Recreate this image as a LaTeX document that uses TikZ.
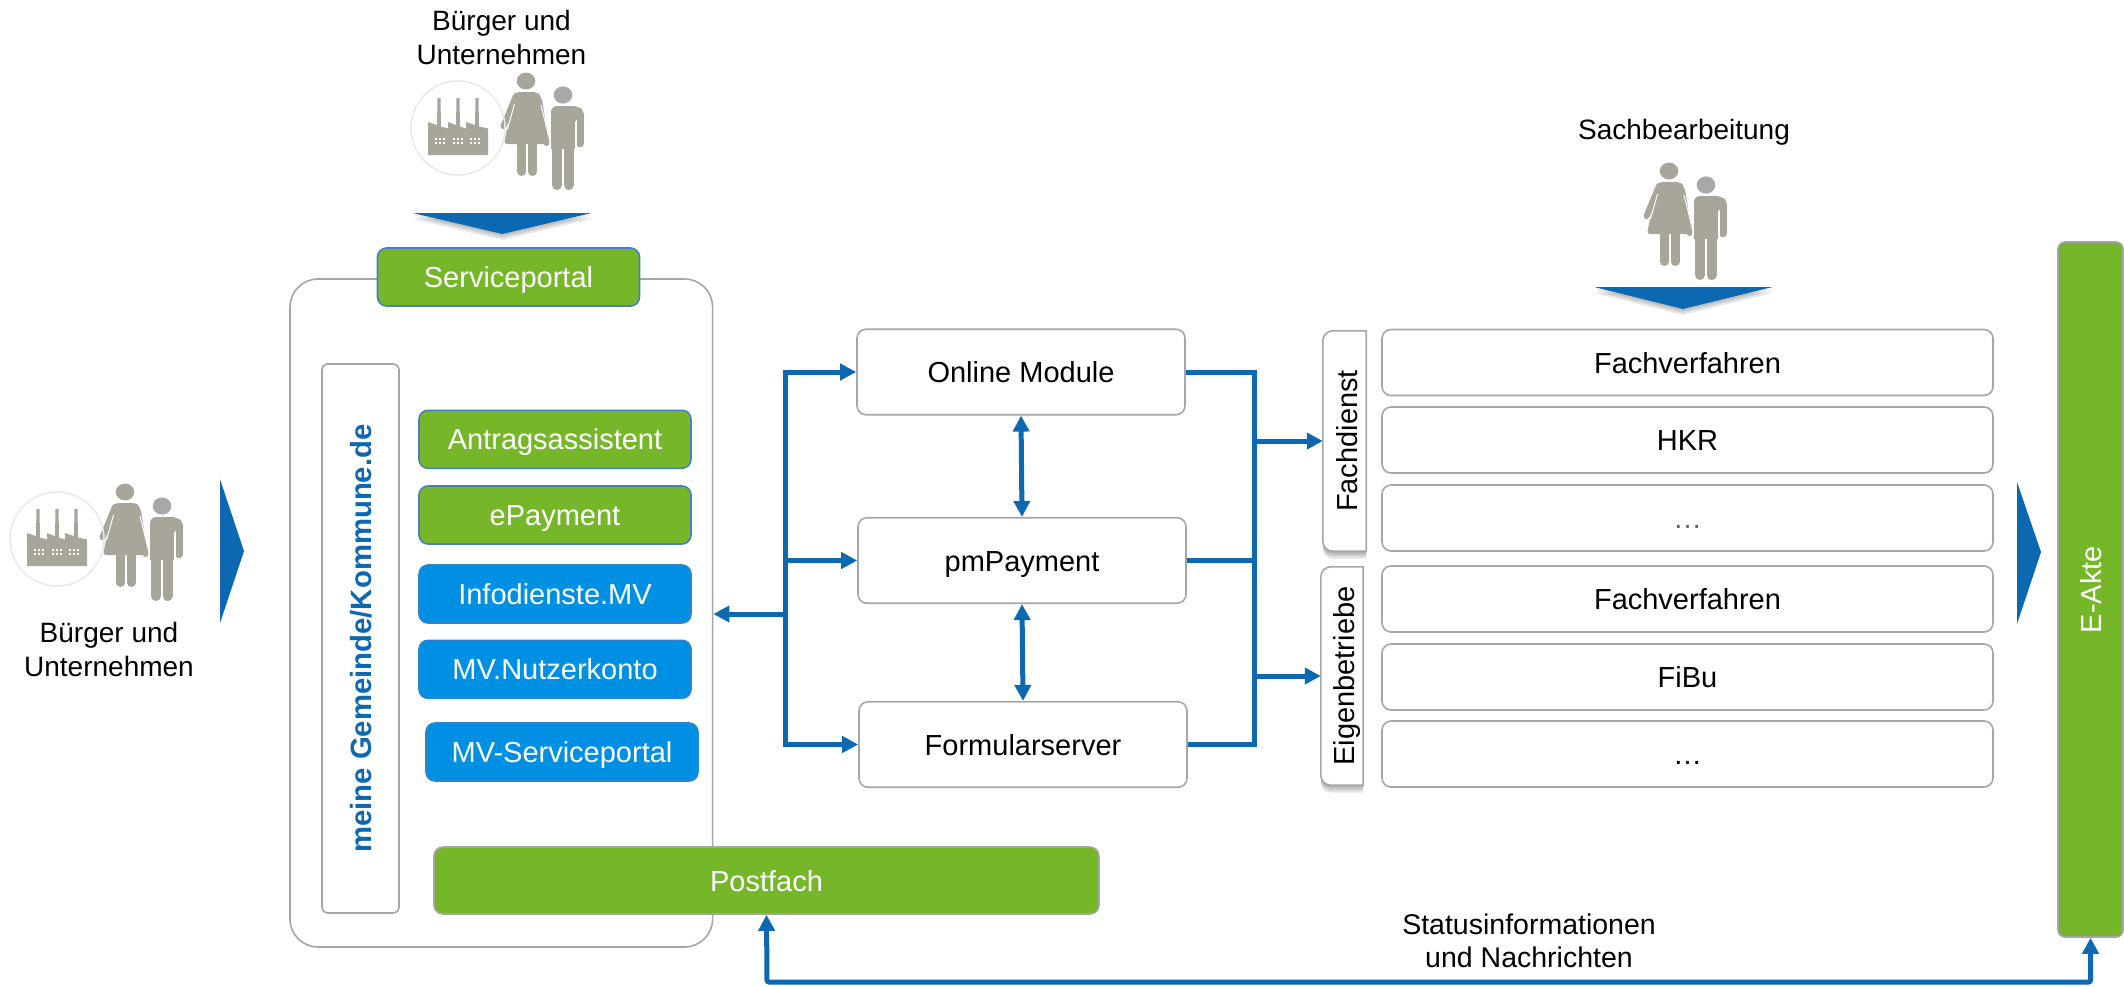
\documentclass[tikz,border=0pt]{standalone}
\usepackage{fontspec}
\setmainfont{Liberation Sans}
\usepackage{graphicx}
\usetikzlibrary{arrows.meta,backgrounds,calc}
\definecolor{flowblue}{HTML}{0D68B2}
\definecolor{leaf}{HTML}{76B72A}
\definecolor{sky}{HTML}{0090E3}
\definecolor{edgegray}{HTML}{A6A6A6}
\definecolor{figgray}{HTML}{A8A59B}
\definecolor{headgray}{HTML}{A7A8AA}
\definecolor{boxline}{HTML}{4A7EC4}
\newcommand{\vtext}[2][21pt]{\rotatebox{90}{\raisebox{0pt}[#1][0pt]{#2}}}
\tikzset{
  txt/.style={font=\fontsize{29}{34}\selectfont,inner sep=0pt},
  capbox/.style={txt,text height=21pt,text depth=0pt},
  plain/.style={capbox,draw=edgegray,fill=white,line width=1.6pt,rounded corners=9pt},
  greenbox/.style={capbox,draw=boxline,fill=leaf,text=white,line width=1.6pt,rounded corners=9pt,minimum width=272pt,minimum height=58pt},
  bluebox/.style={capbox,draw=boxline!60!sky,fill=sky,text=white,line width=1.6pt,rounded corners=9pt,minimum width=272pt,minimum height=58pt},
  module/.style={plain,minimum width=328pt,minimum height=85.5pt},
  rowbox/.style={plain,minimum width=611pt,minimum height=66pt},
  caption/.style={font=\fontsize{28}{34}\selectfont,inner sep=0pt,align=center},
  tabnode/.style={txt},
  tabshape/.style={draw=edgegray,fill=white,line width=1.6pt},
  tabshade/.style={fill=black,fill opacity=.11},
  flowline/.style={draw=flowblue,line width=5pt},
  flow/.style={flowline,-{Triangle[length=16pt,width=16pt]}},
  flowboth/.style={flowline,{Triangle[length=16pt,width=16pt]}-{Triangle[length=16pt,width=16pt]}},
  bigarrow/.style={fill=flowblue},
  arrowshade/.style={fill=black,fill opacity=.09},
  people/.pic={
    % man
    \fill[headgray] (162,506) ellipse [x radius=9.3,y radius=8.6];
    \fill[figgray] (150,525) rectangle (174,560);
    \fill[figgray,rounded corners=6pt] (150,517) -- (178,517) -- (183,523) -- (183,532) -- (150,532) -- cycle;
    \draw[figgray,line width=7.5pt,line cap=round] (179.2,525) -- (179.2,554.5);
    \draw[figgray,line width=10pt,line cap=round] (156,552) -- (156,596);
    \draw[figgray,line width=10pt,line cap=round] (167.5,552) -- (167.5,596);
    \draw[white,line width=.8pt] (175,531) -- (175,560);
    % woman
    \fill[figgray] (125,492) ellipse [x radius=9.3,y radius=8.4];
    \draw[white,line width=1pt] (139,510) -- (149.5,556);
    \fill[figgray,rounded corners=3pt] (115,503) -- (136,503) -- (141,510) -- (148,555) -- (103,555) -- (112,510) -- cycle;
    \draw[figgray,line width=6pt,line cap=round] (115,507) -- (102.5,537);
    \draw[figgray,line width=6pt,line cap=round] (136,507) -- (145.5,554);
    \draw[white,line width=1pt] (113.5,515) -- (106.5,540);
    \draw[white,line width=1pt] (140,516) -- (148,548);
    \draw[figgray,line width=9pt,line cap=round] (120.5,550) -- (120.5,582.5);
    \draw[figgray,line width=9pt,line cap=round] (131.5,550) -- (131.5,582.5);
  },
  factory/.pic={
    \draw[black!9,line width=1.5pt] (57,539) circle [radius=47];
    \fill[figgray] (27,566) -- (27,533) -- (36,536) -- (36.5,509) -- (39.5,509) -- (40,537.5) -- (47,539.5) -- (47,533) -- (55,536) -- (55.5,509) -- (58.5,509) -- (59,537.5) -- (65,539.5) -- (65,533) -- (74,536) -- (74.5,509) -- (77.5,509) -- (78,537.5) -- (87,539.5) -- (87,566) -- cycle;
    \foreach \cx in {39,57,74}{
      \foreach \ox in {-4,0,4}{
        \foreach \oy in {550,554}{
          \fill[white] ({\cx+\ox-1},\oy-1) rectangle ({\cx+\ox+1},\oy+1);
        }
      }
    }
  }
}
\begin{document}
\begin{tikzpicture}[x=1pt,y=-1pt]
\useasboundingbox (0,0) rectangle (2124,986);

% Outer portal frame and its contents
\node[plain,minimum width=422.6pt,minimum height=668pt,rounded corners=28pt] (portal) at (501.3,613) {};
\node[txt,draw=edgegray,fill=white,line width=1.6pt,rounded corners=6pt,minimum width=77pt,minimum height=549pt,text=flowblue,font=\fontsize{29.3}{34}\selectfont] (gemeinde) at (360.5,638.5) {\bfseries\vtext{meine Gemeinde/Kommune.de}};
\node[greenbox,minimum width=262pt] (service) at (508.5,277) {Serviceportal};
\node[greenbox] (antrag) at (555,439.3) {Antragsassistent};
\node[greenbox] (epay) at (555,515) {ePayment};
\node[bluebox] (info) at (555,594) {Infodienste.MV};
\node[bluebox] (konto) at (555,669.3) {MV.Nutzerkonto};
\node[bluebox] (mvportal) at (562,752) {MV-Serviceportal};
\node[greenbox,draw=edgegray,minimum width=665pt,minimum height=67pt] (postfach) at (766.5,880.5) {Postfach};

% Modules
\node[module] (online) at (1021,372) {Online Module};
\node[module] (pm) at (1022,560.5) {pmPayment};
\node[module] (form) at (1023,744.5) {Formularserver};

% Rows
\node[rowbox] (r1) at (1687.5,362.5) {Fachverfahren};
\node[rowbox] (r2) at (1687.5,440) {HKR};
\node[rowbox,text=black!60] (r3) at (1687.5,518) {…};
\node[rowbox] (r4) at (1687.5,599) {Fachverfahren};
\node[rowbox] (r5) at (1687.5,677) {FiBu};
\node[rowbox] (r6) at (1687.5,754) {…};

% Side tabs
\node[tabnode,minimum width=43pt,minimum height=220pt] (fach) at (1344.5,441) {\vtext[25pt]{Fachdienst}};
\node[tabnode,minimum width=42pt,minimum height=218pt] (eigen) at (1342,676) {\vtext[25pt]{Eigenbetriebe}};
\begin{scope}[on background layer]
  \foreach \tabname in {fach,eigen}{
    \foreach \off in {2.5,5,7.5}{
      \path[tabshade] ($(\tabname.north east)+(0,\off)$) [rounded corners=10pt] -- ($(\tabname.north west)+(0,\off)$) -- ($(\tabname.south west)+(0,\off)$) [sharp corners] -- ($(\tabname.south east)+(0,\off)$) -- cycle;
    }
    \path[tabshape] (\tabname.north east) [rounded corners=10pt] -- (\tabname.north west) -- (\tabname.south west) [sharp corners] -- (\tabname.south east) -- cycle;
  }
\end{scope}

% E-Akte
\node[txt,draw=edgegray,fill=leaf,text=white,line width=1.6pt,rounded corners=7pt,minimum width=65pt,minimum height=695pt] (eakte) at (2090.5,589.5) {\vtext{E-Akte}};

% Bus coordinates
\coordinate (lbus) at (785,614);
\coordinate (rbus) at (1254,560);
\coordinate (bbus) at (767,982);

% Left bus
\draw[flowline,line cap=rect] (online.west -| lbus) -- (form.west -| lbus);
\draw[flow] (online.west -| lbus) -- (online.west);
\draw[flow] (pm.west -| lbus) -- (pm.west);
\draw[flow] (form.west -| lbus) -- (form.west);
\draw[flow] (lbus) -- (portal.east |- lbus);

% Verticals
\draw[flowboth] (online.south) -- (pm.north);
\draw[flowboth] (pm.south) -- (form.north);

% Right bus
\draw[flowline,line cap=rect] (online.east -| rbus) -- (form.east -| rbus);
\draw[flowline] (online.east) -- (online.east -| rbus);
\draw[flowline] (pm.east) -- (pm.east -| rbus);
\draw[flowline] (form.east) -- (form.east -| rbus);
\draw[flow] (fach.west -| rbus) -- (fach.west);
\draw[flow] (eigen.west -| rbus) -- (eigen.west);

% Bottom return
\draw[flowboth,rounded corners=2pt] (postfach.south) -- (bbus) -- (bbus -| eakte.south) -- (eakte.south);

% Captions
\node[caption] (citizensTop) at (501.5,37) {Bürger und\\Unternehmen};
\node[caption] (citizensLeft) at (109,649) {Bürger und\\Unternehmen};
\node[caption] (clerks) at (1684,132) {Sachbearbeitung};
\node[caption,font=\fontsize{28.5}{33.5}\selectfont] (status) at (1529,941) {Statusinformationen\\und Nachrichten};

% Figures
\pic at (0,0) {people};
\pic at (0,0) {factory};
\pic at (401,-411) {people};
\pic at (401,-411) {factory};
\pic at (1544,-321) {people};

% Big arrows
\foreach \off in {2,4,6}{
  \path[arrowshade] (412.8,213+\off) -- (591.4,213+\off) -- (502.3,234+\off) -- cycle;
  \path[arrowshade] (1594,287+\off) -- (1772.5,287+\off) -- (1683,309+\off) -- cycle;
}
\path[bigarrow] (220,479) -- (244,551) -- (220,623) -- cycle;
\path[bigarrow] (2017,482) -- (2041,552) -- (2017,624) -- cycle;
\path[bigarrow] (412.8,213) -- (591.4,213) -- (502.3,234) -- cycle;
\path[bigarrow] (1594,287) -- (1772.5,287) -- (1683,309) -- cycle;
\end{tikzpicture}
\end{document}
